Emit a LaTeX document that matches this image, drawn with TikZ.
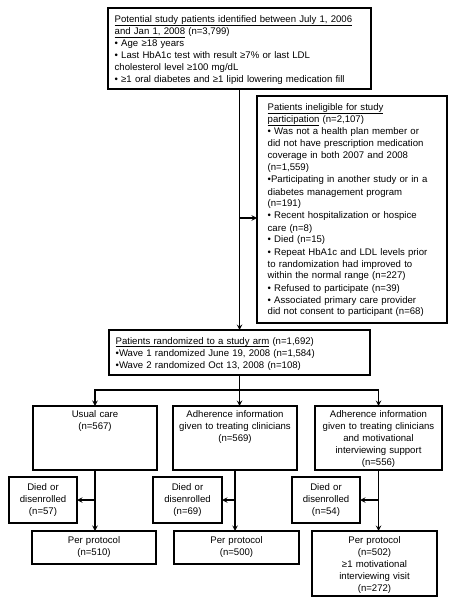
\documentclass[tikz,border=0pt]{standalone}
\usepackage{fontspec}
\setmainfont{Liberation Sans}
\usetikzlibrary{calc}
\hyphenpenalty=10000
\newcommand{\undl}[1]{\underline{\smash{#1}}}

\begin{document}
\begin{tikzpicture}[x=0.75pt,y=-0.75pt,>=stealth]
	% `box' is used for every box, text sits at its top.
	% `leftbox' and `midbox' only change the alignment.
	\tikzstyle{box} = [draw,line width=1.3pt,anchor=north west,outer sep=0pt,inner ysep=2.5pt,font=\fontsize{7.2}{9}\selectfont]
	\tikzstyle{leftbox} = [box,align=left,inner xsep=5pt]
	\tikzstyle{midbox} = [box,align=center,inner xsep=3pt]
	\tikzstyle{line} = [line width=0.8pt]
	%
	\useasboundingbox (0,0) rectangle (457,606);
	% Screening and exclusion.
	\node[leftbox,text width=187.25pt,text height=8.75pt,text depth=47pt] (potential) at (108,8)
		{\undl{Potential study patients identified between July 1, 2006}\\
		\undl{and Jan 1, 2008} (n=3,799)\\
		• Age ≥18 years\\
		• Last HbA1c test with result ≥7\% or last LDL\\
		cholesterol level ≥100 mg/dL\\
		• ≥1 oral diabetes and ≥1 lipid lowering medication fill};
	\node[leftbox,inner xsep=8pt,text width=126.5pt,text height=8.75pt,text depth=156.5pt] (inel) at (257,96)
		{\undl{Patients ineligible for study}\\
		\undl{participation} (n=2,107)\\
		• Was not a health plan member or\\
		did not have prescription medication\\
		coverage in both 2007 and 2008\\
		(n=1,559)\\
		•Participating in another study or in a\\
		diabetes management program\\
		(n=191)\\
		• Recent hospitalization or hospice\\
		care (n=8)\\
		• Died (n=15)\\
		• Repeat HbA1c and LDL levels prior\\
		to randomization had improved to\\
		within the normal range (n=227)\\
		• Refused to participate (n=39)\\
		• Associated primary care provider\\
		did not consent to participant (n=68)};
	\node[leftbox,text width=185.75pt,text height=8.5pt,text depth=20.25pt] (rand) at (109,330)
		{\undl{Patients randomized to a study arm} (n=1,692)\\
		•Wave 1 randomized June 19, 2008 (n=1,584)\\
		•Wave 2 randomized Oct 13, 2008 (n=108)};
	% Study arms.
	\node[midbox,text width=87pt,text height=6pt,text depth=37pt] (arm1) at (33,406)
		{Usual care\\(n=567)};
	\node[midbox,text width=87pt,text height=6pt,text depth=37pt] (arm2) at (173,406)
		{Adherence information\\given to treating clinicians\\(n=569)};
	\node[midbox,text width=89.25pt,text height=6pt,text depth=37pt] (arm3) at (315,406)
		{Adherence information\\given to treating clinicians\\and motivational\\interviewing support\\(n=556)};
	% Losses.
	\node[midbox,text width=45pt,text height=7.5pt,text depth=22pt] (died1) at (9,477)
		{Died or\\disenrolled\\(n=57)};
	\node[midbox,text width=45.75pt,text height=7.5pt,text depth=22pt] (died2) at (153,477)
		{Died or\\disenrolled\\(n=69)};
	\node[midbox,text width=45pt,text height=7.5pt,text depth=22pt] (died3) at (292,477)
		{Died or\\disenrolled\\(n=54)};
	% Per protocol.
	\node[midbox,text width=87pt,text height=7pt,text depth=12.75pt] (pp1) at (32,531)
		{Per protocol\\(n=510)};
	\node[midbox,text width=87.75pt,text height=7pt,text depth=12.75pt] (pp2) at (174,531)
		{Per protocol\\(n=500)};
	\node[midbox,text width=87.75pt,text height=7pt,text depth=36.75pt] (pp3) at (312,531)
		{Per protocol\\(n=502)\\≥1 motivational\\interviewing visit\\(n=272)};
	%
	% Draw lines.
	\coordinate (split) at (239.5,218);
	\coordinate (fork) at (239.5,390);
	\draw[line,->] (potential.south) -- (rand.north);
	\draw[line,->] (split) -- (split -| inel.west);
	\draw[line] (rand.south) -- (fork);
	\draw[line,->] (fork) -| (arm1.north);
	\draw[line,->] (fork) -- (fork |- arm2.north);
	\draw[line,->] (fork) -| (arm3.north);
	\draw[line,->] (arm1.south) -- (arm1.south |- pp1.north);
	\draw[line,->] (arm2.south) -- (arm2.south |- pp2.north);
	\draw[line,->] (arm3.south) -- (arm3.south |- pp3.north);
	\draw[line,->] (arm1.south |- died1.east) -- (died1.east);
	\draw[line,->] (arm2.south |- died2.east) -- (died2.east);
	\draw[line,->] (arm3.south |- died3.east) -- (died3.east);
%
\end{tikzpicture}
\end{document}
